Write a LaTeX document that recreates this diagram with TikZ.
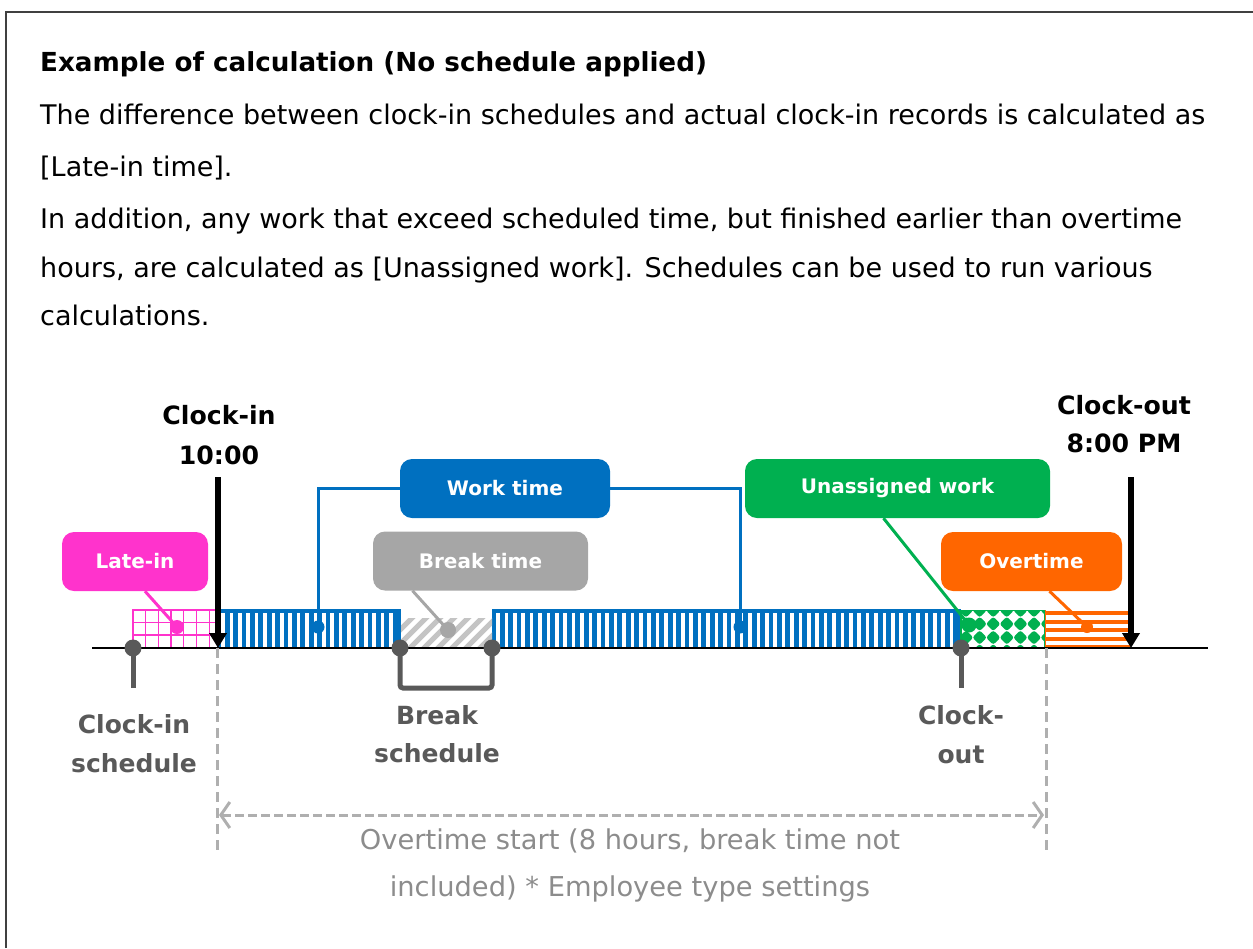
\documentclass[tikz,border=0pt]{standalone}
\usepackage{fontspec}
\setmainfont{DejaVu Sans}
\usetikzlibrary{arrows.meta,calc}
\definecolor{wblue}{HTML}{0070C0}
\definecolor{pinkc}{HTML}{FF33CC}
\definecolor{callgray}{HTML}{A6A6A6}
\definecolor{hatchgray}{HTML}{C4C4C4}
\definecolor{greenc}{HTML}{00B050}
\definecolor{orangec}{HTML}{FF6600}
\definecolor{pingray}{HTML}{595959}
\definecolor{dashgray}{HTML}{AFAFAF}
\definecolor{notegray}{HTML}{8C8C8C}
\definecolor{framegray}{HTML}{404040}
\tikzset{
  bodytext/.style={anchor=base west, inner sep=0, font=\fontsize{27}{32}\selectfont},
  titletext/.style={anchor=base west, inner sep=0, font=\fontsize{26.2}{32}\selectfont\bfseries},
  blacklabel/.style={anchor=base, inner sep=0, font=\fontsize{25.2}{30}\selectfont\bfseries},
  graylabel/.style={anchor=base, inner sep=0, text=pingray, font=\fontsize{25}{30}\selectfont\bfseries},
  notetext/.style={anchor=base, inner sep=0, text=notegray, font=\fontsize{27.3}{32}\selectfont},
  callbox/.style={rounded corners=12, inner sep=0, text=white, font=\fontsize{20}{24}\selectfont\bfseries, minimum height=59},
  dotnode/.style={circle, inner sep=0, minimum size=#1},
  pinnode/.style={circle, fill=pingray, inner sep=0, minimum size=17},
  pinstem/.style={draw=pingray, line width=5},
  connector/.style={line width=3},
  timearrow/.style={line width=5.5, -{Triangle[length=15, width=17]}},
  guide/.style={draw=dashgray, line width=3, dash pattern=on 10 off 6},
}
\begin{document}
\begin{tikzpicture}[x=1pt,y=-1pt]
\useasboundingbox (0,0) rectangle (1253,948);
% frame
\draw[framegray, line width=1.5] (6,948) -- (6,12) -- (1253,12);

% texts
\node[titletext] (title) at (40,71) {Example of calculation (No schedule applied)};
\node[bodytext] (l1) at (40,124) {The difference between clock-in schedules and actual clock-in records is calculated as};
\node[bodytext] (l2) at (40,176) {[Late-in time].};
\node[bodytext] (l3) at (40,228) {In addition, any work that exceed scheduled time, but finished earlier than overtime};
\node[bodytext] (l4) at (40,277) {hours, are calculated as [Unassigned work]. Schedules can be used to run various};
\node[bodytext] (l5) at (40,325) {calculations.};

% ---- bars ----
% late-in grid
\fill[white] (133,610) rectangle (217,648);
\foreach \i in {1,...,6} \draw[pinkc, line width=1.3] (133+\i*12.7,610) -- (133+\i*12.7,648);
\foreach \y in {622.5,635} \draw[pinkc, line width=1.3] (133,\y) -- (217,\y);
\draw[pinkc, line width=1.5] (133,648) -- (133,610) -- (217,610);

% work blocks
\fill[wblue] (217,609) rectangle (401,648);
\foreach \x in {223,231.4,...,398} \draw[white, line width=3.6] (\x,613) -- (\x,648);
\fill[wblue] (492,609) rectangle (961,648);
\foreach \x in {498,506.4,...,958} \draw[white, line width=3.6] (\x,613) -- (\x,648);

% break hatch
\begin{scope}
\clip (401,618) rectangle (492,648);
\foreach \i in {0,...,9} \draw[hatchgray, line width=5] (370+\i*14,660) -- ++(45,-45);
\end{scope}

% unassigned pattern
\begin{scope}
\clip (961,610) rectangle (1045,648);
\fill[white] (961,610) rectangle (1045,648);
\foreach \i in {0,...,6} \foreach \j in {0,...,3}
  \fill[greenc, rounded corners=2.5] (966+\i*13.6,603+\j*13.6) -- ++(7.3,7.3) -- ++(-7.3,7.3) -- ++(-7.3,-7.3) -- cycle;
\end{scope}
\draw[greenc, line width=1.5] (961,648) -- (961,610.5) -- (1045,610.5) -- (1045,648);

% overtime stripes
\fill[white] (1045,610) rectangle (1130,648);
\foreach \y in {611,619.5,628,636.5,645} \fill[orangec] (1045,\y) rectangle (1130,\y+4.3);
\draw[orangec, line width=1.5] (1045.5,648) -- (1045.5,610);

% timeline
\draw[line width=1.5] (92,648) coordinate (tlA) -- (1208,648) coordinate (tlB);

% guides
\coordinate (gA) at (217,648);
\coordinate (gB) at (1046,648);
\draw[guide] (gA) -- ++(0,207) coordinate (gAend);
\draw[guide] (gB) -- ++(0,207) coordinate (gBend);
\coordinate (spanA) at (219,815);
\coordinate (spanB) at (1044,815);
\draw[draw=dashgray, line width=3, dash pattern=on 9 off 4,
  {Straight Barb[length=9, width=26, line width=3]}-{Straight Barb[length=9, width=26, line width=3]}] (spanA) -- (spanB);
\node[notetext] (note1) at (630,849) {Overtime start (8 hours, break time not};
\node[notetext] (note2) at (630,896) {included) * Employee type settings};

% clock arrows
\coordinate (cinTop) at (218,477);
\coordinate (cinTip) at (218,648);
\draw[timearrow] (cinTop) -- (cinTip);
\coordinate (coutTop) at (1131,477);
\coordinate (coutTip) at (1131,648);
\draw[timearrow] (coutTop) -- (coutTip);
\node[blacklabel] (cin1) at (219,424) {Clock-in};
\node[blacklabel] (cin2) at (219,464) {10:00};
\node[blacklabel] (cout1) at (1124,414) {Clock-out};
\node[blacklabel] (cout2) at (1124,452) {8:00 PM};

% pins
\draw[pinstem] (133,648) -- (133,688);
\draw[pinstem] (961,648) -- (961,688);
\draw[pinstem, rounded corners=3] (400,648) -- (400,688) -- (492,688) -- (492,648);
\node[pinnode] (pinCin) at (133,648) {};
\node[pinnode] (pinBrA) at (400,648) {};
\node[pinnode] (pinBrB) at (492,648) {};
\node[pinnode] (pinCout) at (961,648) {};
\node[graylabel] (lbCin1) at (134,733) {Clock-in};
\node[graylabel] (lbCin2) at (134,772) {schedule};
\node[graylabel] (lbBr1) at (437,724) {Break};
\node[graylabel] (lbBr2) at (437,762) {schedule};
\node[graylabel] (lbCo1) at (961,724) {Clock-};
\node[graylabel] (lbCo2) at (961,763) {out};

% callouts
\node[callbox, fill=pinkc, minimum width=146] (late) at (135,561.5) {Late-in};
\node[callbox, fill=wblue, minimum width=210] (work) at (505,488.5) {Work time};
\node[callbox, fill=callgray, minimum width=215] (brk) at (480.5,561) {Break time};
\node[callbox, fill=greenc, minimum width=305] (unas) at (897.5,488.5) {Unassigned work};
\node[callbox, fill=orangec, minimum width=181] (ot) at (1031.5,561.5) {Overtime};

% dots
\node[dotnode=14, fill=pinkc] (dLate) at (177,627) {};
\node[dotnode=13, fill=wblue] (dW1) at (318,627) {};
\node[dotnode=13, fill=wblue] (dW2) at (740,627) {};
\node[dotnode=16, fill=callgray] (dBrk) at (448,630) {};
\node[dotnode=15, fill=greenc] (dUn) at (969,625) {};
\node[dotnode=12, fill=orangec] (dOt) at (1087,627) {};

% connectors
\draw[connector, pinkc] ([xshift=10]late.south) -- (dLate.center);
\draw[connector, wblue] (work.west) -| (dW1.center);
\draw[connector, wblue] (work.east) -| (dW2.center);
\draw[connector, callgray] ([xshift=-68]brk.south) -- (dBrk.center);
\draw[connector, greenc] ([xshift=-14]unas.south) -- (dUn.center);
\draw[connector, orangec] ([xshift=18]ot.south) -- (dOt.center);
\end{tikzpicture}
\end{document}
